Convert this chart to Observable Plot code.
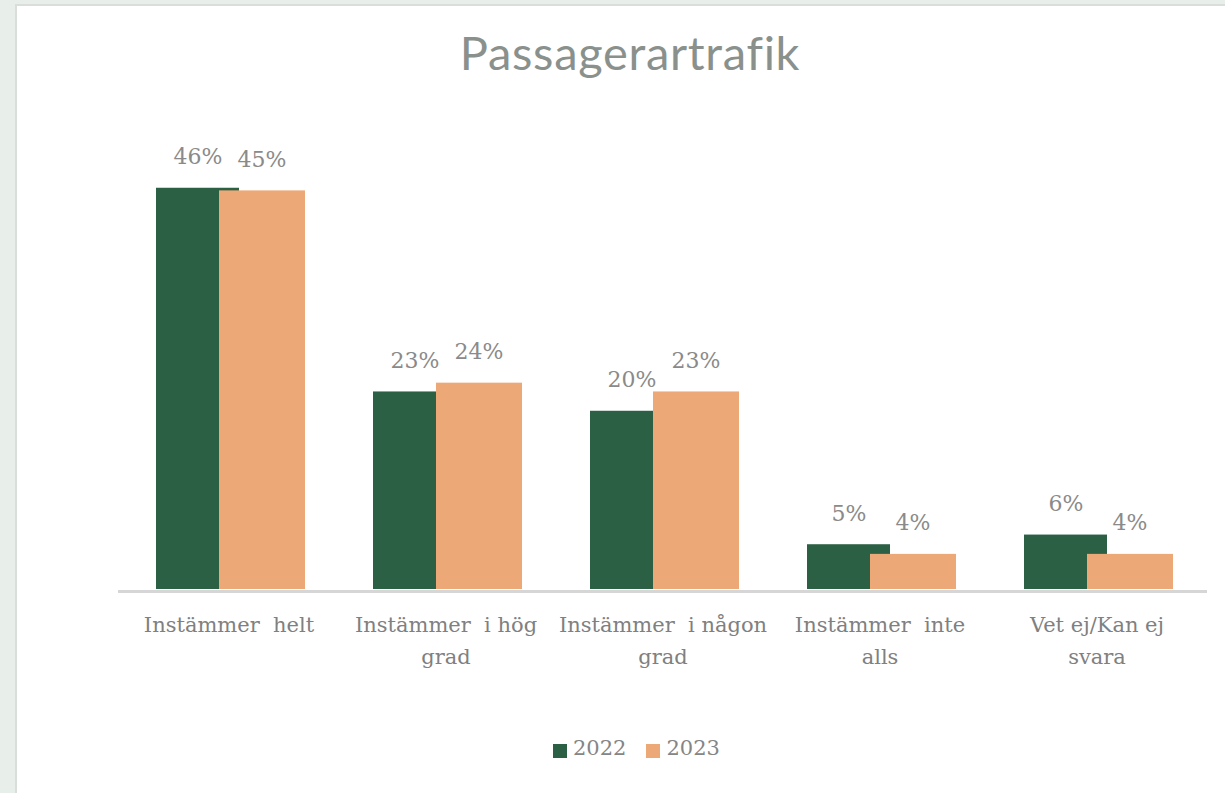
<!DOCTYPE html>
<html>
<head>
<meta charset="utf-8">
<script src="https://cdn.jsdelivr.net/npm/d3@7"></script>
<script src="https://cdn.jsdelivr.net/npm/@observablehq/plot@0.6"></script>
<style>
  html, body { margin: 0; padding: 0; width: 1225px; height: 793px; overflow: hidden; background: #e8eeea; }
  #panel { position: absolute; left: 15px; top: 4px; width: 1210px; height: 789px; background: #ffffff;
           border-left: 2px solid #d9dedb; border-top: 2px solid #d9dedb; }
  #title { position: absolute; left: 0; top: 24px; width: 1260px; text-align: center;
           font-family: Lato, "Open Sans", sans-serif; font-size: 47px; color: #8a918d; letter-spacing: 0.7px; }
  #chart { position: absolute; left: 0; top: 0; }
  #chart svg text { font-family: "DejaVu Serif", serif !important; }
  #legend { position: absolute; top: 736px; left: 553px; font-family: "DejaVu Serif", serif; font-size: 21px; color: #858585;
            display: flex; align-items: center; }
  .sw { display: inline-block; width: 14px; height: 14px; margin-right: 6px; position: relative; top: 3px; }
  .item { display: inline-flex; align-items: center; margin-right: 20px; }
</style>
</head>
<body>
<div id="panel"></div>
<div id="title">Passagerartrafik</div>
<div id="chart"></div>
<div id="legend"></div>
<script>
const categories = ["Instämmer helt", "Instämmer i hög grad", "Instämmer i någon grad", "Instämmer inte alls", "Vet ej/Kan ej svara"];
const tickLabels = ["Instämmer  helt", "Instämmer  i hög\ngrad", "Instämmer  i någon\ngrad", "Instämmer  inte\nalls", "Vet ej/Kan ej\nsvara"];
const years = ["2022", "2023"];
const values2022 = [45.7, 22.5, 20.3, 5.1, 6.2];
const values2023 = [45.4, 23.5, 22.5, 4.0, 4.0];
const colors = ["#2c6044", "#eda878"];

const d2022 = categories.map((c, i) => ({cat: c, value: values2022[i], year: "2022"}));
const d2023 = categories.map((c, i) => ({cat: c, value: values2023[i], year: "2023"}));
const fmt = d => Math.round(d.value) + "%";

const labelStyle = {fontFamily: "DejaVu Serif", fontSize: 22, fill: "#8a8a8a", lineAnchor: "middle"};

const chart = Plot.plot({
  width: 1225,
  height: 793,
  marginLeft: 118,
  marginRight: 18,
  marginTop: 150,
  marginBottom: 204,
  style: {background: "transparent", overflow: "visible"},
  x: {domain: categories, padding: 0, axis: null},
  y: {domain: [0, 50], axis: null},
  marks: [
    Plot.barY(d2022, {x: "cat", y: "value", fill: colors[0], insetLeft: 36, insetRight: 98}),
    Plot.barY(d2023, {x: "cat", y: "value", fill: colors[1], insetLeft: 99, insetRight: 32}),
    Plot.ruleY([0], {stroke: "#d6d6d6", strokeWidth: 3, dy: 2}),
    Plot.text(d2022, {x: "cat", y: "value", text: fmt, dx: -31, dy: -31, ...labelStyle}),
    Plot.text(d2023, {x: "cat", y: "value", text: fmt, dx: 33, dy: -31, ...labelStyle}),
    Plot.axisX({
      domain: categories,
      tickSize: 0,
      tickPadding: 19,
      tickFormat: (d, i) => tickLabels[categories.indexOf(d)],
      fontFamily: "DejaVu Serif",
      fontSize: 21,
      fill: "#808080",
      lineHeight: 1.55,
      lineAnchor: "top",
      label: null
    })
  ]
});
chart.querySelectorAll("text").forEach(t => t.style.whiteSpace = "pre");
document.getElementById("chart").appendChild(chart);

const legend = document.getElementById("legend");
years.forEach((y, i) => {
  const item = document.createElement("span");
  item.className = "item";
  const sw = document.createElement("span");
  sw.className = "sw";
  sw.style.background = colors[i];
  item.appendChild(sw);
  item.appendChild(document.createTextNode(y));
  legend.appendChild(item);
});
</script>
</body>
</html>
